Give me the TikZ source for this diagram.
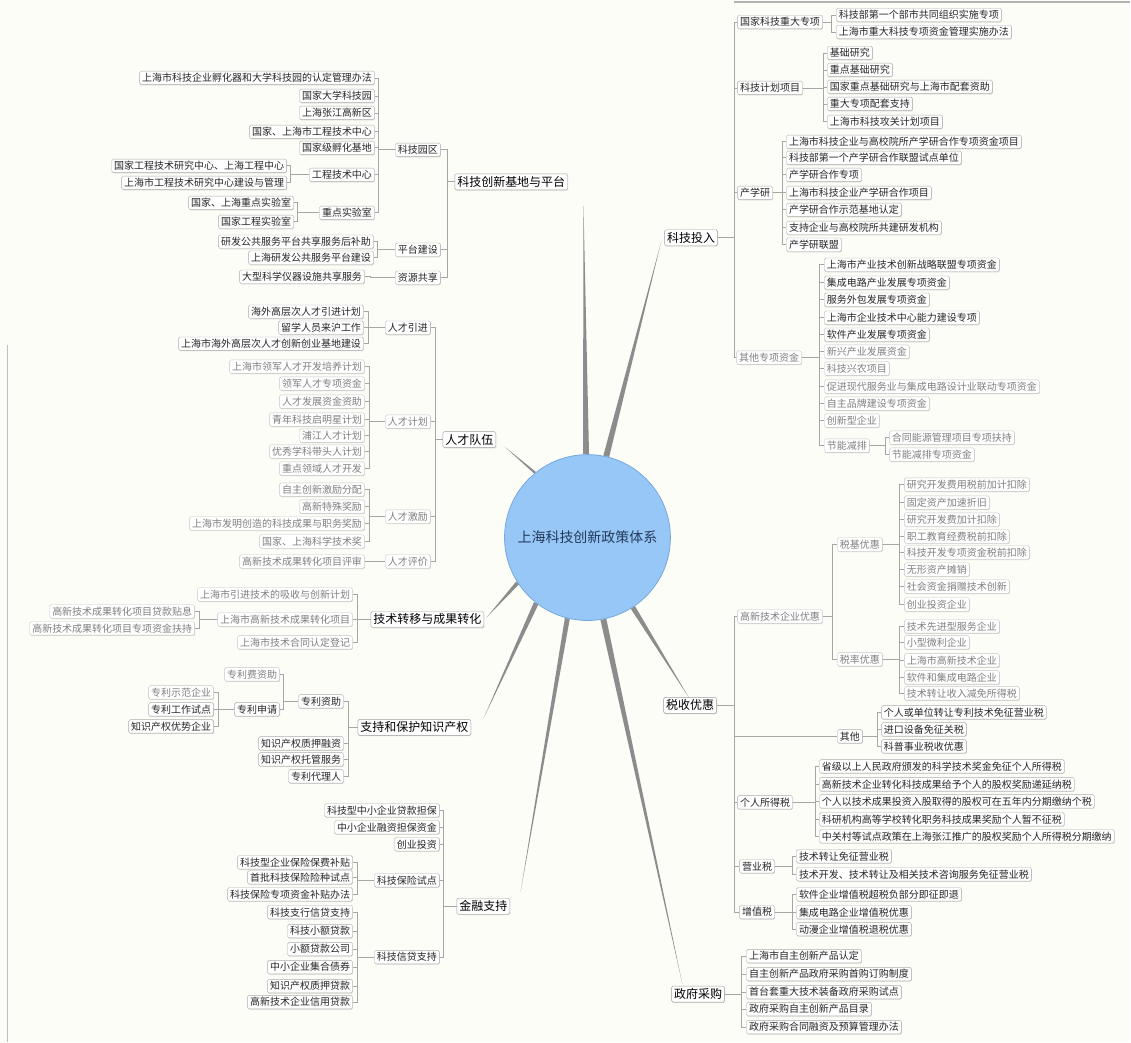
\documentclass[tikz,border=0pt]{standalone}
\usepackage{fontspec}
\setmainfont{Noto Sans CJK SC}
\usetikzlibrary{calc,shadows}
\definecolor{bgc}{RGB}{253,253,247}
\definecolor{rootfill}{RGB}{150,199,246}
\definecolor{rootdraw}{RGB}{118,168,222}
\definecolor{roottext}{RGB}{38,58,92}
\pgfdeclarelayer{back}\pgfdeclarelayer{mid}\pgfsetlayers{back,mid,main}
\newcommand\mmR[3]{\foreach \c in {#3}{\draw[link] (#1.east) -| (#2,0 |- \c.west) -- (\c.west);}}
\newcommand\mmL[3]{\foreach \c in {#3}{\draw[link] (#1.west) -| (#2,0 |- \c.east) -- (\c.east);}}
\newcommand\mmTaper[3]{\fill[trunk] ($(#1)!#3!90:(#2)$) -- ($(#1)!#3!-90:(#2)$) -- (#2) -- cycle;}
\begin{document}
\begin{tikzpicture}[x=1pt,y=-1pt,
 leaf/.style={draw=gray!65, fill=white, rounded corners=1.5pt, inner xsep=2.5pt, inner ysep=0.8pt, minimum height=13.5pt, font=\fontsize{10}{11}\selectfont, text=black!85, drop shadow={shadow xshift=0.5pt,shadow yshift=-0.8pt,opacity=0.3}},
 gleaf/.style={leaf, draw=gray!45, text=black!50},
 br/.style={leaf, draw=gray!75, font=\fontsize{12}{13}\selectfont, minimum height=16pt, text=black},
 link/.style={draw=gray!70, line width=0.8pt},
 trunk/.style={fill=gray!90}]
\begin{pgfonlayer}{back}
\fill[bgc] (0,0) rectangle (1131,1043);
\draw[gray!60, line width=2pt] (735,2) -- (1131,2);
\draw[gray!50, line width=1pt] (8,345) -- (8,1043);
\end{pgfonlayer}
\useasboundingbox (0,0) rectangle (1131,1043);

% root
\node[circle, fill=rootfill, draw=rootdraw, line width=0.8pt, minimum size=166pt, inner sep=0pt, font=\fontsize{14}{16}\selectfont, text=roottext] (root) at (588,538) {上海科技创新政策体系};

% ===== main branches =====
\node[br, anchor=west] (kb) at (455,182) {科技创新基地与平台};
\node[br, anchor=west] (tr) at (665,238) {科技投入};
\node[br, anchor=west] (rc) at (443,440) {人才队伍};
\node[br, anchor=west] (tt) at (371,620) {技术转移与成果转化};
\node[br, anchor=west] (ip) at (358,728) {支持和保护知识产权};
\node[br, anchor=west] (fs) at (457,907) {金融支持};
\node[br, anchor=west] (tx) at (664,706) {税收优惠};
\node[br, anchor=west] (gp) at (672,995) {政府采购};

\coordinate (e1) at (584,206);
\coordinate (e2) at (662,241);
\coordinate (e3) at (505,447);
\coordinate (e4) at (487,618);
\coordinate (e5) at (484,719);
\coordinate (e6) at (521,893);
\coordinate (e7) at (690,699);
\coordinate (e8) at (683,985);
\begin{pgfonlayer}{mid}
\mmTaper{root.91}{e1}{3pt}
\mmTaper{root.77}{e2}{3pt}
\mmTaper{root.129}{e3}{1.2pt}
\mmTaper{root.213}{e4}{2pt}
\mmTaper{root.232}{e5}{2.5pt}
\mmTaper{root.256}{e6}{2.5pt}
\mmTaper{root.303}{e7}{2.5pt}
\mmTaper{root.281}{e8}{3pt}
\end{pgfonlayer}

% ===== 科技投入 =====
\node[leaf, anchor=west] (tr1) at (738,22) {国家科技重大专项};
\node[leaf, anchor=west] (tr1a) at (837,15) {科技部第一个部市共同组织实施专项};
\node[leaf, anchor=west] (tr1b) at (837,32) {上海市重大科技专项资金管理实施办法};
\node[leaf, anchor=west] (tr2) at (738,88) {科技计划项目};
\node[leaf, anchor=west] (tr2a) at (828,53) {基础研究};
\node[leaf, anchor=west] (tr2b) at (828,70) {重点基础研究};
\node[leaf, anchor=west] (tr2c) at (828,87) {国家重点基础研究与上海市配套资助};
\node[leaf, anchor=west] (tr2d) at (828,104) {重大专项配套支持};
\node[leaf, anchor=west] (tr2e) at (828,122) {上海市科技攻关计划项目};
\node[leaf, anchor=west] (tr3) at (738,193) {产学研};
\node[leaf, anchor=west] (tr3a) at (787,142) {上海市科技企业与高校院所产学研合作专项资金项目};
\node[leaf, anchor=west] (tr3b) at (787,158) {科技部第一个产学研合作联盟试点单位};
\node[leaf, anchor=west] (tr3c) at (787,175) {产学研合作专项};
\node[leaf, anchor=west] (tr3d) at (787,193) {上海市科技企业产学研合作项目};
\node[leaf, anchor=west] (tr3e) at (787,210) {产学研合作示范基地认定};
\node[leaf, anchor=west] (tr3f) at (787,228) {支持企业与高校院所共建研发机构};
\node[leaf, anchor=west] (tr3g) at (787,245) {产学研联盟};
\node[gleaf, anchor=west] (tr4) at (737,358) {其他专项资金};
\node[leaf, anchor=west] (tr4a) at (825,265) {上海市产业技术创新战略联盟专项资金};
\node[leaf, anchor=west] (tr4b) at (825,283) {集成电路产业发展专项资金};
\node[leaf, anchor=west] (tr4c) at (825,300) {服务外包发展专项资金};
\node[leaf, anchor=west] (tr4d) at (825,318) {上海市企业技术中心能力建设专项};
\node[leaf, anchor=west] (tr4e) at (825,335) {软件产业发展专项资金};
\node[gleaf, anchor=west] (tr4f) at (825,352) {新兴产业发展资金};
\node[gleaf, anchor=west] (tr4g) at (825,369) {科技兴农项目};
\node[gleaf, anchor=west] (tr4h) at (825,387) {促进现代服务业与集成电路设计业联动专项资金};
\node[gleaf, anchor=west] (tr4i) at (825,404) {自主品牌建设专项资金};
\node[gleaf, anchor=west] (tr4j) at (825,421) {创新型企业};
\node[gleaf, anchor=west] (tr4k) at (825,446) {节能减排};
\node[gleaf, anchor=west] (tr4k1) at (890,438) {合同能源管理项目专项扶持};
\node[gleaf, anchor=west] (tr4k2) at (890,455) {节能减排专项资金};
\mmR{tr}{735}{tr1,tr2,tr3,tr4}
\mmR{tr1}{832}{tr1a,tr1b}
\mmR{tr2}{824}{tr2a,tr2b,tr2c,tr2d,tr2e}
\mmR{tr3}{783}{tr3a,tr3b,tr3c,tr3d,tr3e,tr3f,tr3g}
\mmR{tr4}{820}{tr4a,tr4b,tr4c,tr4d,tr4e,tr4f,tr4g,tr4h,tr4i,tr4j,tr4k}
\mmR{tr4k}{886}{tr4k1,tr4k2}

% ===== 税收优惠 =====
\node[gleaf, anchor=west] (tx1) at (738,617) {高新技术企业优惠};
\node[gleaf, anchor=west] (tx1a) at (838,545) {税基优惠};
\node[gleaf, anchor=west] (b1) at (905,485) {研究开发费用税前加计扣除};
\node[gleaf, anchor=west] (b2) at (905,503) {固定资产加速折旧};
\node[gleaf, anchor=west] (b3) at (905,520) {研究开发费加计扣除};
\node[gleaf, anchor=west] (b4) at (905,537) {职工教育经费税前扣除};
\node[gleaf, anchor=west] (b5) at (905,553) {科技开发专项资金税前扣除};
\node[gleaf, anchor=west] (b6) at (905,570) {无形资产摊销};
\node[gleaf, anchor=west] (b7) at (905,587) {社会资金捐赠技术创新};
\node[gleaf, anchor=west] (b8) at (905,605) {创业投资企业};
\node[gleaf, anchor=west] (tx1b) at (838,660) {税率优惠};
\node[gleaf, anchor=west] (c1) at (905,627) {技术先进型服务企业};
\node[gleaf, anchor=west] (c2) at (905,643) {小型微利企业};
\node[gleaf, anchor=west] (c3) at (905,661) {上海市高新技术企业};
\node[gleaf, anchor=west] (c4) at (905,678) {软件和集成电路企业};
\node[gleaf, anchor=west] (c5) at (905,694) {技术转让收入减免所得税};
\node[leaf, anchor=west] (tx2) at (838,737) {其他};
\node[leaf, anchor=west] (tx2a) at (882,713) {个人或单位转让专利技术免征营业税};
\node[leaf, anchor=west] (tx2b) at (882,730) {进口设备免征关税};
\node[leaf, anchor=west] (tx2c) at (882,747) {科普事业税收优惠};
\node[leaf, anchor=west] (tx3) at (738,803) {个人所得税};
\node[leaf, anchor=west] (tx3a) at (820,767) {省级以上人民政府颁发的科学技术奖金免征个人所得税};
\node[leaf, anchor=west] (tx3b) at (820,785) {高新技术企业转化科技成果给予个人的股权奖励递延纳税};
\node[leaf, anchor=west] (tx3c) at (820,802) {个人以技术成果投资入股取得的股权可在五年内分期缴纳个税};
\node[leaf, anchor=west] (tx3d) at (820,820) {科研机构高等学校转化职务科技成果奖励个人暂不征税};
\node[leaf, anchor=west] (tx3e) at (820,837) {中关村等试点政策在上海张江推广的股权奖励个人所得税分期缴纳};
\node[leaf, anchor=west] (tx4) at (740,867) {营业税};
\node[leaf, anchor=west] (tx4a) at (797,857) {技术转让免征营业税};
\node[leaf, anchor=west] (tx4b) at (797,875) {技术开发、技术转让及相关技术咨询服务免征营业税};
\node[leaf, anchor=west] (tx5) at (740,913) {增值税};
\node[leaf, anchor=west] (tx5a) at (797,895) {软件企业增值税超税负部分即征即退};
\node[leaf, anchor=west] (tx5b) at (797,913) {集成电路企业增值税优惠};
\node[leaf, anchor=west] (tx5c) at (797,930) {动漫企业增值税退税优惠};
\mmR{tx}{735}{tx1,tx2,tx3,tx4,tx5}
\mmR{tx1}{833}{tx1a,tx1b}
\mmR{tx1a}{900}{b1,b2,b3,b4,b5,b6,b7,b8}
\mmR{tx1b}{900}{c1,c2,c3,c4,c5}
\mmR{tx2}{878}{tx2a,tx2b,tx2c}
\mmR{tx3}{816}{tx3a,tx3b,tx3c,tx3d,tx3e}
\mmR{tx4}{793}{tx4a,tx4b}
\mmR{tx5}{793}{tx5a,tx5b,tx5c}

% ===== 政府采购 =====
\node[leaf, anchor=west] (gp1) at (747,957) {上海市自主创新产品认定};
\node[leaf, anchor=west] (gp2) at (747,975) {自主创新产品政府采购首购订购制度};
\node[leaf, anchor=west] (gp3) at (747,993) {首台套重大技术装备政府采购试点};
\node[leaf, anchor=west] (gp4) at (747,1010) {政府采购自主创新产品目录};
\node[leaf, anchor=west] (gp5) at (747,1028) {政府采购合同融资及预算管理办法};
\mmR{gp}{742}{gp1,gp2,gp3,gp4,gp5}

% ===== 科技创新基地与平台 =====
\node[leaf, anchor=east] (k1) at (441,150) {科技园区};
\node[leaf, anchor=east] (k1a) at (375,78) {上海市科技企业孵化器和大学科技园的认定管理办法};
\node[leaf, anchor=east] (k1b) at (375,96) {国家大学科技园};
\node[leaf, anchor=east] (k1c) at (375,113) {上海张江高新区};
\node[leaf, anchor=east] (k1d) at (375,132) {国家、上海市工程技术中心};
\node[leaf, anchor=east] (k1e) at (375,148) {国家级孵化基地};
\node[leaf, anchor=east] (k1f) at (375,175) {工程技术中心};
\node[leaf, anchor=east] (k1f1) at (287,166) {国家工程技术研究中心、上海工程中心};
\node[leaf, anchor=east] (k1f2) at (287,183) {上海市工程技术研究中心建设与管理};
\node[leaf, anchor=east] (k1g) at (375,213) {重点实验室};
\node[leaf, anchor=east] (k1g1) at (294,203) {国家、上海重点实验室};
\node[leaf, anchor=east] (k1g2) at (294,222) {国家工程实验室};
\node[leaf, anchor=east] (k2) at (441,250) {平台建设};
\node[leaf, anchor=east] (k2a) at (374,242) {研发公共服务平台共享服务后补助};
\node[leaf, anchor=east] (k2b) at (374,258) {上海研发公共服务平台建设};
\node[leaf, anchor=east] (k3) at (441,278) {资源共享};
\node[leaf, anchor=east] (k3a) at (365,277) {大型科学仪器设施共享服务};
\mmL{kb}{448}{k1,k2,k3}
\mmL{k1}{379}{k1a,k1b,k1c,k1d,k1e,k1f,k1g}
\mmL{k1f}{291}{k1f1,k1f2}
\mmL{k1g}{298}{k1g1,k1g2}
\mmL{k2}{378}{k2a,k2b}
\mmL{k3}{371}{k3a}

% ===== 人才队伍 =====
\node[leaf, anchor=east] (rc1) at (431,328) {人才引进};
\node[leaf, anchor=east] (rc1a) at (364,312) {海外高层次人才引进计划};
\node[leaf, anchor=east] (rc1b) at (364,328) {留学人员来沪工作};
\node[leaf, anchor=east] (rc1c) at (364,344) {上海市海外高层次人才创新创业基地建设};
\node[gleaf, anchor=east] (rc2) at (431,422) {人才计划};
\node[gleaf, anchor=east] (rc2a) at (365,367) {上海市领军人才开发培养计划};
\node[gleaf, anchor=east] (rc2b) at (365,384) {领军人才专项资金};
\node[gleaf, anchor=east] (rc2c) at (365,402) {人才发展资金资助};
\node[gleaf, anchor=east] (rc2d) at (365,420) {青年科技启明星计划};
\node[gleaf, anchor=east] (rc2e) at (365,436) {浦江人才计划};
\node[gleaf, anchor=east] (rc2f) at (365,452) {优秀学科带头人计划};
\node[gleaf, anchor=east] (rc2g) at (365,469) {重点领域人才开发};
\node[gleaf, anchor=east] (rc3) at (431,517) {人才激励};
\node[gleaf, anchor=east] (rc3a) at (365,490) {自主创新激励分配};
\node[gleaf, anchor=east] (rc3b) at (365,507) {高新特殊奖励};
\node[gleaf, anchor=east] (rc3c) at (365,524) {上海市发明创造的科技成果与职务奖励};
\node[gleaf, anchor=east] (rc3d) at (365,542) {国家、上海科学技术奖};
\node[gleaf, anchor=east] (rc4) at (431,562) {人才评价};
\node[gleaf, anchor=east] (rc4a) at (365,562) {高新技术成果转化项目评审};
\mmL{rc}{436}{rc1,rc2,rc3,rc4}
\mmL{rc1}{369}{rc1a,rc1b,rc1c}
\mmL{rc2}{370}{rc2a,rc2b,rc2c,rc2d,rc2e,rc2f,rc2g}
\mmL{rc3}{370}{rc3a,rc3b,rc3c,rc3d}
\mmL{rc4}{370}{rc4a}

% ===== 技术转移与成果转化 =====
\node[gleaf, anchor=east] (tt1) at (353,595) {上海市引进技术的吸收与创新计划};
\node[gleaf, anchor=east] (tt2) at (353,620) {上海市高新技术成果转化项目};
\node[gleaf, anchor=east] (tt2a) at (195,612) {高新技术成果转化项目贷款贴息};
\node[gleaf, anchor=east] (tt2b) at (195,629) {高新技术成果转化项目专项资金扶持};
\node[gleaf, anchor=east] (tt3) at (353,643) {上海市技术合同认定登记};
\mmL{tt}{358}{tt1,tt2,tt3}
\mmL{tt2}{200}{tt2a,tt2b}

% ===== 支持和保护知识产权 =====
\node[leaf, anchor=east] (ip1) at (344,702) {专利资助};
\node[gleaf, anchor=east] (ip1a) at (280,675) {专利费资助};
\node[leaf, anchor=east] (ip1b) at (280,710) {专利申请};
\node[gleaf, anchor=east] (ip1b1) at (214,693) {专利示范企业};
\node[leaf, anchor=east] (ip1b2) at (214,710) {专利工作试点};
\node[leaf, anchor=east] (ip1b3) at (214,727) {知识产权优势企业};
\node[leaf, anchor=east] (ip2) at (344,744) {知识产权质押融资};
\node[leaf, anchor=east] (ip3) at (344,760) {知识产权托管服务};
\node[leaf, anchor=east] (ip4) at (344,777) {专利代理人};
\mmL{ip}{349}{ip1,ip2,ip3,ip4}
\mmL{ip1}{284}{ip1a,ip1b}
\mmL{ip1b}{219}{ip1b1,ip1b2,ip1b3}

% ===== 金融支持 =====
\node[leaf, anchor=east] (fs1) at (440,811) {科技型中小企业贷款担保};
\node[leaf, anchor=east] (fs2) at (440,828) {中小企业融资担保资金};
\node[leaf, anchor=east] (fs3) at (440,845) {创业投资};
\node[leaf, anchor=east] (fs4) at (440,881) {科技保险试点};
\node[leaf, anchor=east] (fs4a) at (353,863) {科技型企业保险保费补贴};
\node[leaf, anchor=east] (fs4b) at (353,878) {首批科技保险险种试点};
\node[leaf, anchor=east] (fs4c) at (353,895) {科技保险专项资金补贴办法};
\node[leaf, anchor=east] (fs5) at (440,958) {科技信贷支持};
\node[leaf, anchor=east] (fs5a) at (353,913) {科技支行信贷支持};
\node[leaf, anchor=east] (fs5b) at (353,932) {科技小额贷款};
\node[leaf, anchor=east] (fs5c) at (353,950) {小额贷款公司};
\node[leaf, anchor=east] (fs5d) at (353,968) {中小企业集合债券};
\node[leaf, anchor=east] (fs5e) at (353,987) {知识产权质押贷款};
\node[leaf, anchor=east] (fs5f) at (353,1003) {高新技术企业信用贷款};
\mmL{fs}{444}{fs1,fs2,fs3,fs4,fs5}
\mmL{fs4}{358}{fs4a,fs4b,fs4c}
\mmL{fs5}{358}{fs5a,fs5b,fs5c,fs5d,fs5e,fs5f}
\end{tikzpicture}
\end{document}
